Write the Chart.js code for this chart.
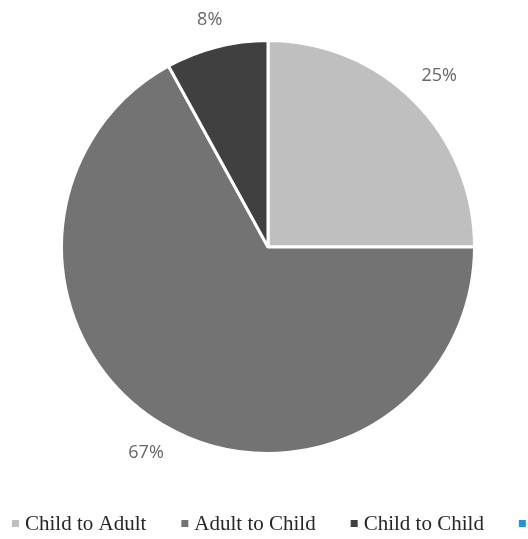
<!DOCTYPE html>
<html>
<head>
<meta charset="utf-8">
<script src="https://cdn.jsdelivr.net/npm/chart.js@4"></script>
<style>
  html, body { margin: 0; padding: 0; background: #ffffff; }
  #wrap { width: 528px; height: 539px; position: relative; overflow: hidden; }
</style>
</head>
<body>
<div id="wrap"><canvas id="pieChart"></canvas></div>
<script>
// Chart data
const categories = ['Child to Adult', 'Adult to Child', 'Child to Child', 'Adult to Adult'];
const shares = [25, 67, 8, 0];
const sliceColors = ['#bfbfbf', '#737373', '#404040', '#1f96d8'];

// labels outside each slice, plus the legend strip along the bottom
const outsideLabels = {
  id: 'outsideLabels',
  afterDraw(chart) {
    const ctx = chart.ctx;
    const arcs = chart.getDatasetMeta(0).data;
    ctx.save();
    ctx.font = '18px "Open Sans", sans-serif';
    ctx.fillStyle = '#666666';
    ctx.textAlign = 'center';
    ctx.textBaseline = 'middle';
    arcs.forEach((arc, i) => {
      if (!shares[i]) return;
      const mid = (arc.startAngle + arc.endAngle) / 2;
      const txt = shares[i] + '%';
      const hw = ctx.measureText(txt).width / 2;
      const hh = 7;
      const dist = arc.outerRadius + 18 + Math.abs(Math.cos(mid)) * hw + Math.abs(Math.sin(mid)) * hh;
      ctx.fillText(txt, arc.x + Math.cos(mid) * dist, arc.y + Math.sin(mid) * dist);
    });

    // legend
    ctx.font = '21px "Liberation Serif", "DejaVu Serif", serif';
    ctx.textAlign = 'left';
    let x = 12;
    const y = 523;
    categories.forEach((name, i) => {
      ctx.fillStyle = sliceColors[i];
      ctx.fillRect(x, y - 3, 7, 7);
      ctx.fillStyle = '#262626';
      ctx.fillText(name, x + 13, y + 1);
      x += 13 + ctx.measureText(name).width + 35;
    });
    ctx.restore();
  }
};

new Chart(document.getElementById('pieChart'), {
  type: 'pie',
  data: {
    labels: categories,
    datasets: [{
      data: shares,
      backgroundColor: sliceColors,
      borderColor: '#ffffff',
      borderWidth: [3, 3, 3, 0]
    }]
  },
  options: {
    responsive: true,
    maintainAspectRatio: false,
    animation: false,
    layout: {
      padding: { left: 60, right: 52, top: 39, bottom: 84 }
    },
    plugins: {
      legend: { display: false },
      tooltip: { enabled: false }
    }
  },
  plugins: [outsideLabels]
});
</script>
</body>
</html>
